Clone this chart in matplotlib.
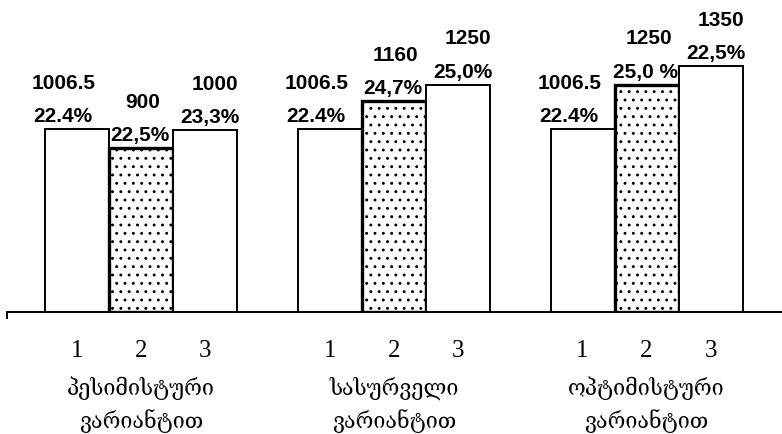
import matplotlib
matplotlib.use('Agg')

import numpy as np
import matplotlib.pyplot as plt

# data
scenarios = ['პესიმისტური\nვარიანტით', 'სასურველი\nვარიანტით', 'ოპტიმისტური\nვარიანტით']
variants = ['1', '2', '3']
values = [[1006.5, 900, 1000],
          [1006.5, 1160, 1250],
          [1006.5, 1250, 1350]]
shares = [['22.4%', '22,5%', '23,3%'],
          ['22.4%', '24,7%', '25,0%'],
          ['22.4%', '25,0 %', '22,5%']]

# layout: bar width 1, groups spaced apart
group_gap = 3.95
val_nudge = [-9.4, 1.4, 7.2]     # points, per bar index
pct_nudge = [-10.0, -1.0, 3.8]

plt.rcParams['hatch.linewidth'] = 0.9

fig = plt.figure(figsize=(7.82, 4.34), dpi=100)
ax = fig.add_axes([7 / 782, 122 / 434, 775 / 782, 273 / 434])
ax.set_xlim(-2.094, 10.016)
ax.set_ylim(0, 1500)

for g, vals in enumerate(values):
    centre = g * group_gap
    for i, v in enumerate(vals):
        x = centre + (i - 1)
        if i == 1:
            ax.bar(x, v, width=1.0, facecolor='white', edgecolor='black',
                   linewidth=2.4, hatch='..', zorder=2)
        else:
            ax.bar(x, v, width=1.0, facecolor='white', edgecolor='black',
                   linewidth=1.4, zorder=2)

        # two-line value label above each bar
        ax.annotate(shares[g][i], xy=(x, v), xytext=(pct_nudge[i], 5),
                    textcoords='offset points', ha='center', va='baseline',
                    fontsize=15, fontweight='bold', family='Liberation Sans')
        ax.annotate(f'{v:g}', xy=(x, v), xytext=(val_nudge[i], 28.8),
                    textcoords='offset points', ha='center', va='baseline',
                    fontsize=15, fontweight='bold', family='Liberation Sans')

        # variant number under the axis
        ax.annotate(variants[i], xy=(x, 0), xycoords=('data', 'axes fraction'),
                    xytext=(0, -32.4), textcoords='offset points',
                    ha='center', va='baseline', fontsize=18,
                    family=['Liberation Serif', 'DejaVu Serif'])

    # scenario name, two lines
    for k, line in enumerate(scenarios[g].split('\n')):
        ax.annotate(line, xy=(centre, 0), xycoords=('data', 'axes fraction'),
                    xytext=(0, -59.8 - k * 23.8), textcoords='offset points',
                    ha='center', va='baseline', fontsize=15.5,
                    family=['DejaVu Serif', 'DejaVu Sans'])

# only a baseline, with a small tick down at the left end
for side in ['top', 'right', 'left']:
    ax.spines[side].set_visible(False)
ax.spines['bottom'].set_linewidth(1.4)
ax.plot([0, 0], [0, -0.022], transform=ax.transAxes, color='black',
        linewidth=1.4, clip_on=False)
ax.set_xticks([])
ax.set_yticks([])

fig.savefig('out.png', dpi=100)
